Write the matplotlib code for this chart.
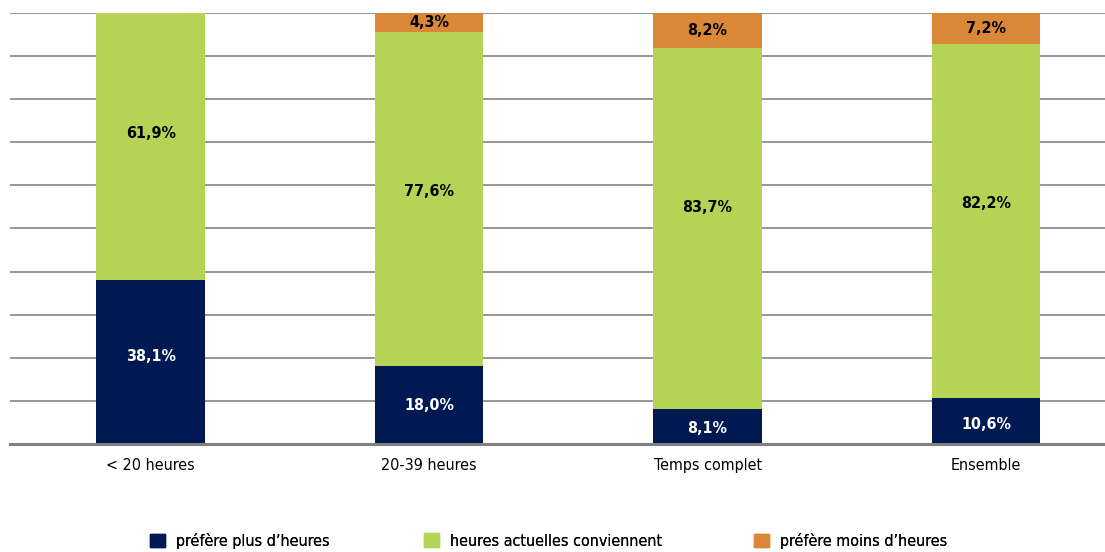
import matplotlib
matplotlib.use("Agg")
import matplotlib.pyplot as plt
from matplotlib import font_manager as fm
from matplotlib.patches import Patch

names = {f.name for f in fm.fontManager.ttflist}
fam = [n for n in ["Liberation Sans Narrow", "DejaVu Sans"] if n in names]
plt.rcParams['font.family'] = fam
plt.rcParams['font.stretch'] = 'condensed'

categories = ["< 20 heures", "20-39 heures", "Temps complet", "Ensemble"]
plus = [38.1, 18.0, 8.1, 10.6]
conviennent = [61.9, 77.6, 83.7, 82.2]
moins = [0.0, 4.3, 8.2, 7.2]
series_names = ["préfère plus d’heures", "heures actuelles conviennent", "préfère moins d’heures"]
colors = ["#001952", "#B5D455", "#DA8837"]
label_colors = ["white", "black", "black"]
# vertical nudges of the value labels (in % units), per series
label_nudges = [[1.3, 0.0, -0.4, -0.7], [3.1, 1.7, 5.0, 4.0], [0.0, 0.0, 0.0, 0.0]]

fig = plt.figure(figsize=(11.05, 5.52), dpi=100)
ax = fig.add_axes([10/1105, 108/552, 1095/1105, 431/552])
x = list(range(len(categories)))
w = 0.39
bottom = [0.0]*len(categories)
for vals, c, lc, nud in zip([plus, conviennent, moins], colors, label_colors, label_nudges):
    ax.bar(x, vals, w, bottom=bottom, color=c, zorder=3)
    for xi, v, b, n in zip(x, vals, bottom, nud):
        if v > 0:
            ax.text(xi, b + v/2 + n, f"{v:.1f}%".replace(".", ","), ha="center", va="center",
                    color=lc, fontsize=11.5, fontweight="bold", zorder=4)
    bottom = [b + v for b, v in zip(bottom, vals)]

ax.set_ylim(0, 100)
ax.set_xlim(-0.505, 3.427)
ax.set_yticks(range(0, 101, 10))
ax.yaxis.grid(True, color="#7a7a7a", linewidth=1.1, zorder=0)
ax.tick_params(axis="y", left=False, labelleft=False)
ax.tick_params(axis="x", length=0, pad=10, labelsize=11.5)
ax.set_xticks(x)
ax.set_xticklabels(categories)
for s in ["left", "right", "top"]:
    ax.spines[s].set_visible(False)
ax.spines["bottom"].set_color("#808080")
ax.spines["bottom"].set_linewidth(2.2)
ax.spines["bottom"].set_zorder(5)

legend_x_px = [150, 424, 754]
for c, n, lx in zip(colors, series_names, legend_x_px):
    leg = fig.legend(handles=[Patch(color=c, label=n)], loc="center left",
                     bbox_to_anchor=(lx/1105, 11/552), frameon=False, fontsize=11.5,
                     handlelength=0.95, handleheight=0.95, handletextpad=0.65,
                     borderpad=0, borderaxespad=0)
    fig.add_artist(leg)
fig.savefig("out.png", dpi=100, facecolor="white")
